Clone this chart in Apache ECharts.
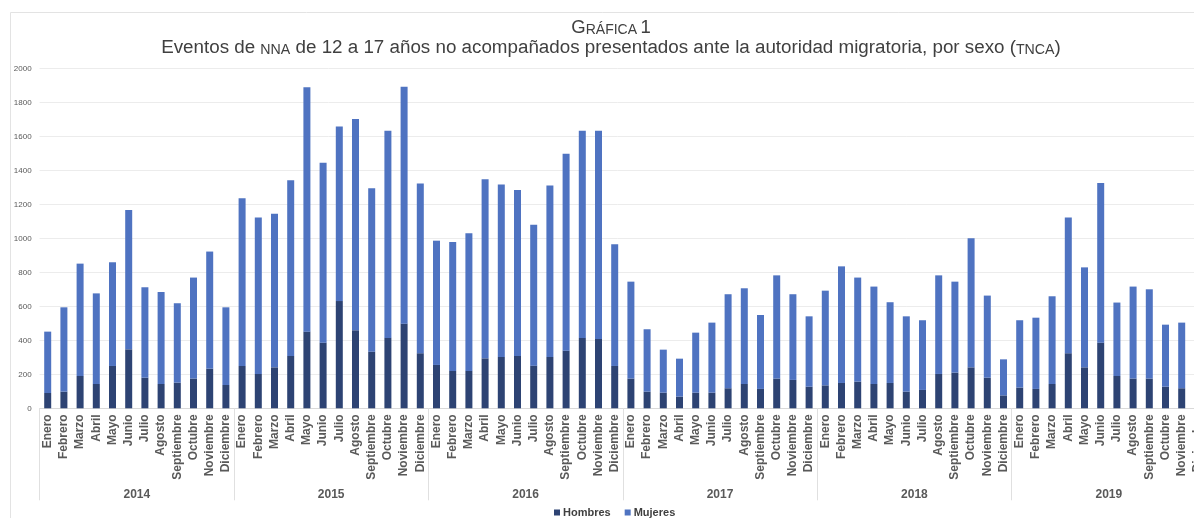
<!DOCTYPE html>
<html>
<head>
<meta charset="utf-8">
<script src="https://cdn.jsdelivr.net/npm/echarts@6/dist/echarts.min.js"></script>
<style>
  html, body { margin: 0; padding: 0; background: #ffffff; }
  #chart { width: 1194px; height: 518px; }
</style>
</head>
<body>
<div id="chart"></div>
<script>
// ---- Data ----
var months = ['Enero', 'Febrero', 'Marzo', 'Abril', 'Mayo', 'Junio', 'Julio',
  'Agosto', 'Septiembre', 'Octubre', 'Noviembre', 'Diciembre'];
var years = ['2014', '2015', '2016', '2017', '2018', '2019'];
var yTicks = [0, 200, 400, 600, 800, 1000, 1200, 1400, 1600, 1800, 2000];

var hombres = [
  90, 98, 190, 143, 249, 347, 180, 143, 151, 175, 233, 137,
  249, 202, 241, 308, 451, 386, 631, 459, 333, 414, 498, 324,
  255, 220, 220, 294, 302, 308, 251, 302, 339, 414, 408, 249,
  175, 98, 92, 69, 92, 92, 118, 143, 114, 175, 167, 127,
  135, 149, 157, 143, 149, 98, 108, 202, 210, 241, 180, 76,
  122, 114, 143, 324, 241, 386, 190, 175, 175, 127, 118, null
];
var mujeres = [
  361, 496, 661, 533, 610, 820, 532, 541, 467, 594, 689, 457,
  986, 920, 904, 1033, 1437, 1059, 1026, 1243, 961, 1219, 1394, 998,
  731, 758, 809, 1053, 1014, 976, 829, 1008, 1159, 1219, 1225, 716,
  570, 367, 253, 223, 353, 412, 553, 563, 435, 607, 504, 414,
  557, 686, 612, 573, 475, 443, 410, 580, 535, 759, 483, 212,
  396, 419, 516, 798, 588, 939, 432, 541, 525, 365, 386, null
];

// categories built from tick labels
var categories = [];
years.forEach(function (y) { months.forEach(function (m) { categories.push(m); }); });

var chart = echarts.init(document.getElementById('chart'));
var labelColor = '#595959';
var ff = 'Liberation Sans, Arial, sans-serif';
var option = {
  backgroundColor: '#ffffff',
  animation: false,
  textStyle: { fontFamily: ff },
  graphic: [
    {
      type: 'rect', silent: true,
      shape: { x: 10.5, y: 12.5, width: 1210, height: 520 },
      style: { fill: 'none', stroke: '#e3e3e3', lineWidth: 1 }
    },
    {
      type: 'text', silent: true,
      style: {
        x: 611, y: 18, textAlign: 'center', textVerticalAlign: 'top',
        text: '{a|G}{b|RÁFICA} {a|1}',
        rich: {
          a: { fontSize: 18.5, fill: '#404040', fontFamily: ff },
          b: { fontSize: 14, fill: '#404040', fontFamily: ff, verticalAlign: 'bottom' }
        }
      }
    },
    {
      type: 'text', silent: true,
      style: {
        x: 611, y: 38, textAlign: 'center', textVerticalAlign: 'top',
        text: '{n|Eventos de }{s|NNA}{n| de 12 a 17 años no acompañados presentados ante la autoridad migratoria, por sexo (}{s|TNCA}{n|)}',
        rich: {
          n: { fontSize: 18.8, fill: '#404040', fontFamily: ff },
          s: { fontSize: 14.2, fill: '#404040', fontFamily: ff, verticalAlign: 'bottom' }
        }
      }
    }
  ],
  legend: {
    data: ['Hombres', 'Mujeres'],
    left: 549, top: 502,
    icon: 'rect', itemWidth: 6, itemHeight: 6, itemGap: 14,
    textStyle: { fontSize: 11, fontWeight: 'bold', color: '#404040', padding: [0, 0, 0, -2] }
  },
  grid: {
    left: 39.6, width: 1166.4, top: 68.3, bottom: 109.7,
    containLabel: false, outerBoundsMode: 'none'
  },
  xAxis: [
    {
      type: 'category',
      data: categories,
      axisLine: { show: true, lineStyle: { color: '#d9d9d9' } },
      axisTick: { show: false },
      axisLabel: {
        interval: 0, rotate: 90, margin: 6,
        fontSize: 12, fontWeight: 'bold', color: labelColor
      }
    },
    {
      type: 'category',
      data: years,
      position: 'bottom',
      axisLine: { show: false },
      axisTick: { show: true, alignWithLabel: false, length: 92, lineStyle: { color: '#e0e0e0' } },
      axisLabel: { margin: 80, fontSize: 12, fontWeight: 'bold', color: labelColor },
      splitLine: { show: false }
    }
  ],
  yAxis: {
    type: 'value',
    min: yTicks[0], max: yTicks[yTicks.length - 1], interval: 200,
    axisLine: { show: false },
    axisTick: { show: false },
    axisLabel: { fontSize: 8, color: labelColor, margin: 8, formatter: function (v) { return String(v); } },
    splitLine: { lineStyle: { color: '#ececec', width: 1 } }
  },
  series: [
    {
      name: 'Hombres', type: 'bar', stack: 'total', xAxisIndex: 0,
      data: hombres, barWidth: 7,
      itemStyle: { color: '#2d4373' }
    },
    {
      name: 'Mujeres', type: 'bar', stack: 'total', xAxisIndex: 0,
      data: mujeres, barWidth: 7,
      itemStyle: { color: '#4f73c1' }
    }
  ]
};
chart.setOption(option);
</script>
</body>
</html>
